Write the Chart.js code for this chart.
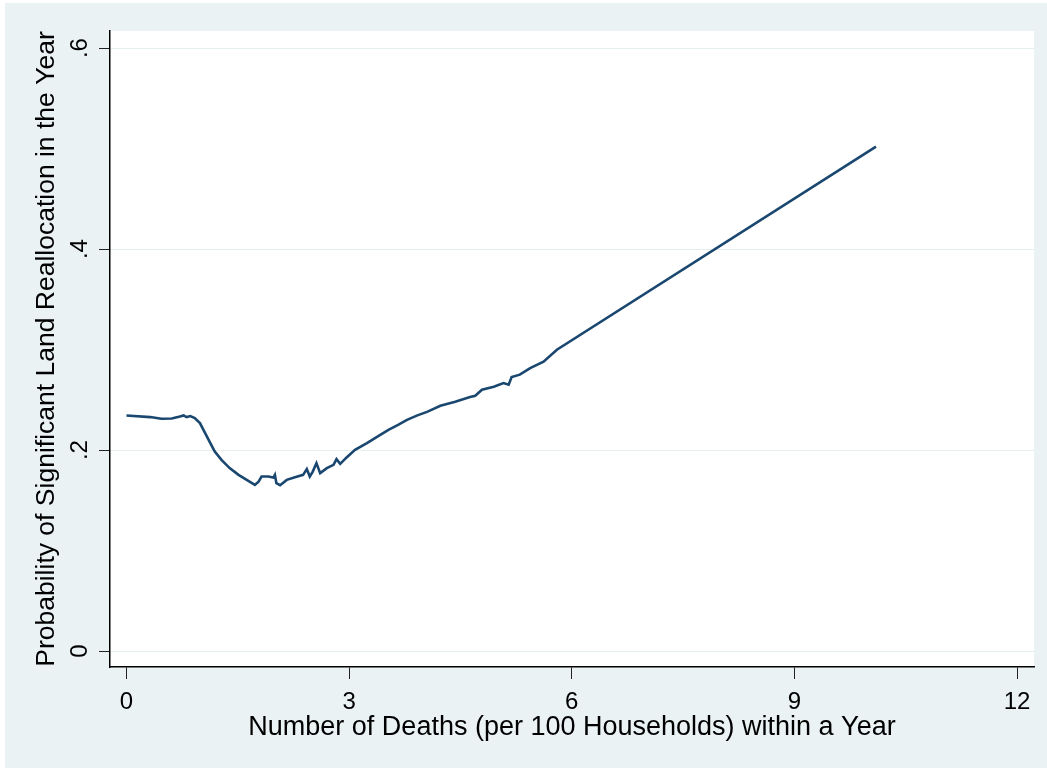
<!DOCTYPE html>
<html><head><meta charset="utf-8">
<script src="https://cdn.jsdelivr.net/npm/chart.js@4.4.0/dist/chart.umd.min.js"></script>
<style>
html,body{margin:0;padding:0;background:#fff;}
#wrap{position:absolute;left:5px;top:3px;width:1042px;height:765px;background:#EAF2F3;}
</style></head><body>
<div id="wrap"><canvas id="c"></canvas></div>
<script>
const deaths = [0, 0.32, 0.47, 0.61, 0.72, 0.77, 0.81, 0.86, 0.92, 0.99, 1.06, 1.13, 1.19, 1.28, 1.39, 1.51, 1.62, 1.73, 1.78, 1.82, 1.91, 1.98, 2.00, 2.02, 2.07, 2.16, 2.27, 2.38, 2.43, 2.47, 2.51, 2.56, 2.61, 2.70, 2.79, 2.83, 2.88, 2.97, 3.08, 3.24, 3.42, 3.53, 3.66, 3.78, 3.92, 4.05, 4.23, 4.43, 4.63, 4.70, 4.79, 4.95, 5.08, 5.15, 5.19, 5.30, 5.44, 5.62, 5.80, 10.10];
const probability = [0.2344, 0.2328, 0.2311, 0.2314, 0.2334, 0.2344, 0.2328, 0.2338, 0.2318, 0.2268, 0.2168, 0.2069, 0.1985, 0.1902, 0.1820, 0.1753, 0.1703, 0.1653, 0.1686, 0.1736, 0.1736, 0.1726, 0.1753, 0.1670, 0.1650, 0.1703, 0.1730, 0.1753, 0.1810, 0.1736, 0.1786, 0.1870, 0.1770, 0.1820, 0.1853, 0.1909, 0.1863, 0.1929, 0.2002, 0.2069, 0.2151, 0.2201, 0.2250, 0.2300, 0.2345, 0.2380, 0.2440, 0.2480, 0.2527, 0.2540, 0.2600, 0.2630, 0.2666, 0.2650, 0.2726, 0.2750, 0.2816, 0.2880, 0.2998, 0.5020];
const xTickValues = [0, 3, 6, 9, 12];
const xTickLabels = ['0', '3', '6', '9', '12'];
const yTickValues = [0, 0.2, 0.4, 0.6];
const yTickLabels = ['0', '.2', '.4', '.6'];
const xTitle = 'Number of Deaths (per 100 Households) within a Year';
const yTitle = 'Probability of Significant Land Reallocation in the Year';

const FONT = "'Liberation Sans', Arial, Helvetica, sans-serif";

const bgPlugin = {
  id: 'bg',
  beforeDraw(chart) {
    const {ctx, chartArea: a} = chart;
    ctx.save();
    ctx.fillStyle = '#FFFFFF';
    ctx.fillRect(a.left, a.top, a.right - a.left, a.bottom - a.top);
    ctx.restore();
  }
};

new Chart(document.getElementById('c'), {
  type: 'line',
  data: {
    datasets: [{
      data: deaths.map((x, i) => ({x: x, y: probability[i]})),
      borderColor: '#1A476F',
      borderWidth: 2.6,
      pointRadius: 0,
      tension: 0,
      fill: false
    }]
  },
  options: {
    responsive: true,
    maintainAspectRatio: false,
    devicePixelRatio: 1,
    animation: false,
    layout: {padding: {top: 28, right: 13, left: 0, bottom: 0}},
    plugins: {legend: {display: false}, tooltip: {enabled: false}},
    scales: {
      x: {
        type: 'linear',
        min: -0.222,
        max: 12.229,
        afterBuildTicks: s => { s.ticks = xTickValues.map(v => ({value: v})); },
        afterFit: s => { s.height = 101; },
        ticks: {
          font: {family: FONT, size: 24},
          color: '#000',
          padding: 9,
          maxRotation: 0,
          autoSkip: false,
          callback: v => xTickLabels[xTickValues.indexOf(v)]
        },
        grid: {drawOnChartArea: false, tickLength: 12, tickColor: '#222', lineWidth: 1},
        border: {display: true, color: '#000', width: 1.5},
        title: {display: true, text: xTitle, color: '#000', font: {family: FONT, size: 27}, padding: {top: 0, bottom: 24}}
      },
      y: {
        type: 'linear',
        min: -0.0159,
        max: 0.617,
        afterBuildTicks: s => { s.ticks = yTickValues.map(v => ({value: v})); },
        afterFit: s => { s.width = 105; },
        ticks: {
          font: {family: FONT, size: 24},
          color: '#000',
          padding: 9,
          minRotation: 90,
          maxRotation: 90,
          crossAlign: 'center',
          autoSkip: false,
          callback: v => yTickLabels[yTickValues.indexOf(v)]
        },
        grid: {color: '#E6EEF0', tickColor: '#222', tickLength: 11, lineWidth: 1},
        border: {display: true, color: '#000', width: 1.5},
        title: {display: true, text: yTitle, color: '#000', font: {family: FONT, size: 26.5}, padding: {top: 26, bottom: 0}}
      }
    }
  },
  plugins: [bgPlugin]
});
</script>
</body></html>
